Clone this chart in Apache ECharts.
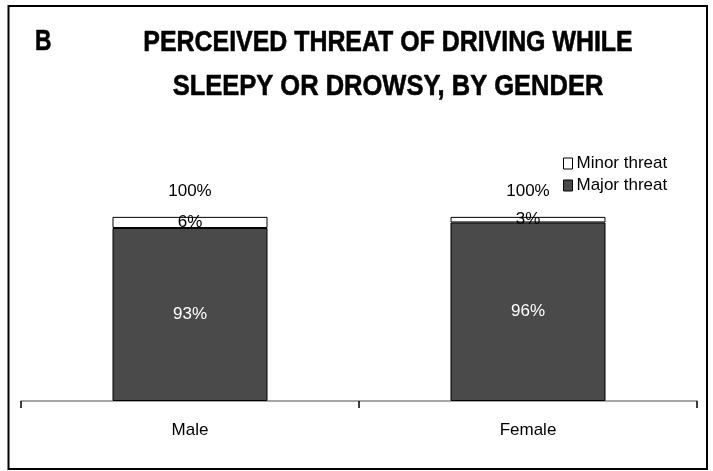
<!DOCTYPE html>
<html><head><meta charset="utf-8">
<script src="https://cdn.jsdelivr.net/npm/echarts@6/dist/echarts.min.js"></script>
<style>html,body{margin:0;padding:0;background:#fff}#c{width:713px;height:471px}</style>
</head><body><div id="c"></div>
<script>
const categories = ['Male', 'Female'];
const majorThreat = [93, 96];
const minorThreat = [6, 3];
const totalLabels = ['100%', '100%'];
const seriesNames = ['Minor threat', 'Major threat'];
const FONT = '"Liberation Sans Narrow", "Liberation Sans", Arial, sans-serif';

const chart = echarts.init(document.getElementById('c'), null, {renderer: 'canvas'});
chart.setOption({
  animation: false,
  backgroundColor: '#fff',
  graphic: [
    {type: 'rect', shape: {x: 8.5, y: 6, width: 698.5, height: 463}, style: {fill: 'none', stroke: '#000', lineWidth: 2}, z: 100},
    {type: 'text', x: 35, y: 42, scaleX: 0.76, style: {text: 'B', font: 'bold 30px ' + FONT, fill: '#000', stroke: '#000', lineWidth: 0.6, textAlign: 'left', textVerticalAlign: 'middle'}},
    {type: 'text', x: 388, y: 42.5, scaleX: 0.83, style: {text: 'PERCEIVED THREAT OF DRIVING WHILE', font: 'bold 30px ' + FONT, fill: '#000', stroke: '#000', lineWidth: 0.6, textAlign: 'center', textVerticalAlign: 'middle'}},
    {type: 'text', x: 388, y: 86.5, scaleX: 0.85, style: {text: 'SLEEPY OR DROWSY, BY GENDER', font: 'bold 30px ' + FONT, fill: '#000', stroke: '#000', lineWidth: 0.6, textAlign: 'center', textVerticalAlign: 'middle'}}
  ],
  legend: {
    data: [
      {name: seriesNames[0], itemStyle: {color: '#fff', borderColor: '#000', borderWidth: 1}},
      {name: seriesNames[1], itemStyle: {color: '#4a4a4a', borderColor: '#000', borderWidth: 1}}
    ],
    orient: 'vertical', left: 558, top: 150, itemGap: 5,
    icon: 'rect', itemWidth: 9, itemHeight: 11,
    textStyle: {fontFamily: FONT, fontSize: 17, color: '#000', padding: [0, 0, 0, -1]}
  },
  grid: {left: 21, right: 16, top: 215, bottom: 70, containLabel: false},
  xAxis: {
    type: 'category', data: categories, boundaryGap: true,
    axisLine: {lineStyle: {color: '#888', width: 1.5}},
    axisTick: {show: true, length: 7, lineStyle: {color: '#000', width: 1.5}},
    axisLabel: {margin: 21, fontFamily: FONT, fontSize: 17, color: '#000'}
  },
  yAxis: {type: 'value', min: 0, max: 100, show: false, splitLine: {show: false}},
  series: [
    {
      name: seriesNames[1], type: 'bar', stack: 's', data: majorThreat, barWidth: 155,
      itemStyle: {color: '#4a4a4a', borderColor: '#000', borderWidth: 1},
      label: {show: true, position: 'inside', formatter: p => p.value + '%', color: '#fff', fontFamily: FONT, fontSize: 17}
    },
    {
      name: seriesNames[0], type: 'bar', stack: 's', data: minorThreat, barWidth: 155,
      itemStyle: {color: '#fff', borderColor: '#000', borderWidth: 1},
      label: {show: true, position: 'inside', formatter: p => p.value + '%', color: '#000', fontFamily: FONT, fontSize: 17}
    },
    {
      name: 'Total', type: 'bar', stack: 's', data: [0, 0], barWidth: 155,
      itemStyle: {color: 'transparent'},
      label: {show: true, position: 'top', distance: 17, formatter: p => totalLabels[p.dataIndex], color: '#000', fontFamily: FONT, fontSize: 17}
    }
  ]
});
</script></body></html>
